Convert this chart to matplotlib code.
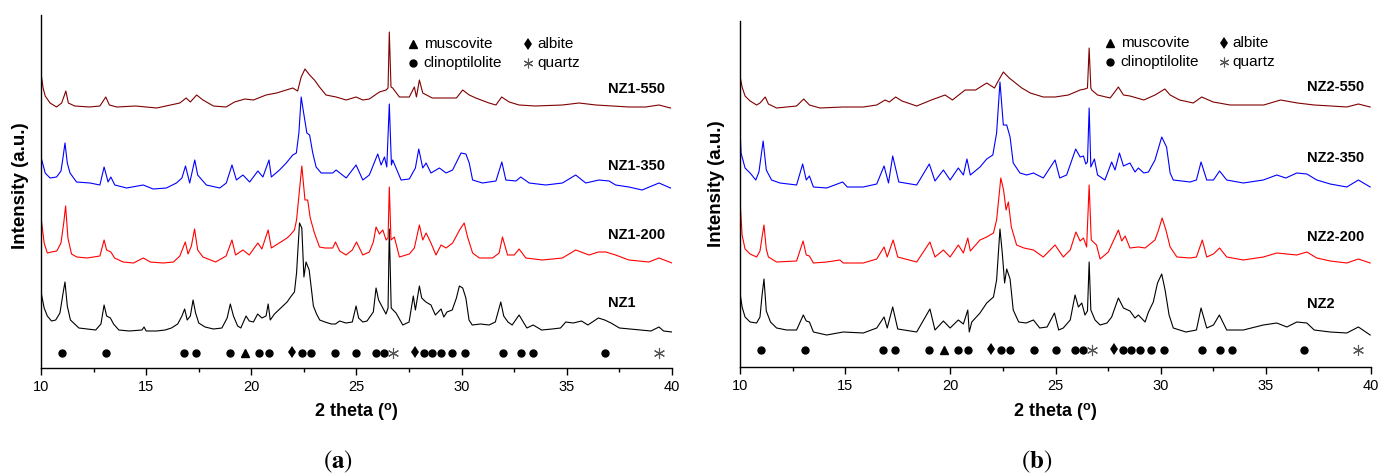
import matplotlib.pyplot as plt

plt.rcParams['font.family'] = ['Liberation Sans', 'DejaVu Sans']
plt.rcParams['mathtext.fontset'] = 'stix'

# XRD patterns as (2theta, intensity) pairs; each trace is stacked by its offset
NZ1 = [(10.0, 76), (10.15, 60), (10.3, 52), (10.5, 47), (10.7, 48), (10.9, 55), (11.05, 75),
       (11.14, 86), (11.25, 62), (11.4, 48), (11.6, 44), (11.8, 40), (12.2, 39), (12.6, 38),
       (12.85, 44), (13.0, 63), (13.12, 52), (13.3, 50), (13.45, 44), (13.7, 38), (14.2, 37),
       (14.8, 38), (14.9, 41), (15.0, 37), (15.5, 37), (15.9, 38), (16.2, 40), (16.5, 44),
       (16.7, 52), (16.83, 59), (16.95, 48), (17.1, 52), (17.23, 68), (17.35, 55), (17.5, 45),
       (17.8, 41), (18.2, 39), (18.6, 40), (18.85, 50), (19.0, 64), (19.15, 52), (19.35, 42),
       (19.5, 40), (19.75, 52), (19.9, 47), (20.1, 46), (20.3, 54), (20.5, 50), (20.7, 52),
       (20.8, 64), (20.9, 48), (21.1, 54), (21.3, 58), (21.5, 62), (21.7, 66), (21.9, 72),
       (22.05, 76), (22.15, 95), (22.29, 145), (22.4, 140), (22.5, 91), (22.6, 106), (22.75, 98),
       (22.85, 80), (22.95, 62), (23.1, 54), (23.25, 48), (23.5, 46), (23.8, 44), (24.0, 44),
       (24.2, 47), (24.5, 45), (24.8, 46), (24.98, 62), (25.1, 50), (25.3, 46), (25.5, 47),
       (25.8, 56), (25.93, 80), (26.05, 68), (26.2, 62), (26.4, 54), (26.5, 60), (26.56, 139),
       (26.65, 60), (26.88, 55), (27.2, 43), (27.5, 46), (27.7, 72), (27.8, 58), (27.99, 82),
       (28.1, 70), (28.3, 66), (28.54, 63), (28.75, 53), (29.02, 59), (29.15, 51), (29.3, 56),
       (29.55, 58), (29.75, 70), (29.89, 82), (30.05, 80), (30.2, 70), (30.35, 48), (30.5, 43),
       (30.9, 44), (31.3, 43), (31.6, 46), (31.86, 66), (32.0, 52), (32.2, 46), (32.4, 43),
       (32.73, 53), (32.9, 47), (33.1, 40), (33.4, 43), (33.8, 38), (34.3, 39), (34.7, 40),
       (34.95, 46), (35.3, 45), (35.7, 47), (36.0, 43), (36.5, 50), (36.8, 48), (37.1, 45),
       (37.5, 40), (38.0, 39), (38.5, 38), (39.0, 37), (39.38, 41), (39.6, 37), (40.0, 36)]

NZ1_200 = [(10.0, 81), (10.15, 55), (10.3, 45), (10.5, 46), (10.75, 47), (10.95, 55), (11.08, 75),
           (11.17, 92), (11.28, 60), (11.45, 44), (11.7, 41), (12.2, 40), (12.8, 42), (13.0, 58),
           (13.12, 48), (13.32, 46), (13.5, 40), (13.9, 36), (14.4, 35), (14.86, 40), (15.2, 36),
           (15.8, 35), (16.3, 36), (16.6, 42), (16.86, 56), (16.99, 44), (17.15, 52), (17.3, 69),
           (17.45, 48), (17.7, 41), (18.3, 36), (18.8, 42), (19.08, 58), (19.25, 43), (19.6, 48),
           (19.9, 43), (20.31, 55), (20.5, 49), (20.8, 68), (20.95, 50), (21.1, 52), (21.4, 56),
           (21.7, 60), (21.85, 63), (22.05, 68), (22.15, 78), (22.4, 132), (22.55, 98), (22.68, 98),
           (22.8, 80), (23.0, 65), (23.24, 51), (23.5, 50), (23.87, 50), (24.0, 56), (24.2, 47),
           (24.5, 43), (24.8, 48), (25.0, 56), (25.3, 43), (25.61, 46), (25.8, 56), (25.93, 71),
           (26.09, 64), (26.25, 68), (26.41, 58), (26.5, 60), (26.56, 111), (26.64, 58), (26.8, 61),
           (27.04, 41), (27.51, 44), (27.75, 50), (27.99, 73), (28.15, 58), (28.31, 65), (28.54, 55),
           (28.78, 43), (29.02, 53), (29.26, 50), (29.57, 55), (29.9, 68), (30.12, 75), (30.28, 61),
           (30.52, 45), (30.84, 40), (31.47, 40), (31.78, 45), (31.94, 61), (32.18, 43), (32.5, 43),
           (32.73, 49), (33.05, 40), (33.84, 38), (34.79, 40), (35.42, 48), (36.06, 43), (36.5, 46),
           (36.85, 46), (37.32, 43), (37.95, 38), (38.9, 36), (39.38, 40), (40.0, 35)]

NZ1_350 = [(10.0, 66), (10.2, 50), (10.43, 45), (10.74, 46), (10.95, 52), (11.05, 66), (11.14, 80),
           (11.25, 60), (11.38, 50), (11.69, 41), (12.33, 40), (12.8, 38), (13.0, 56), (13.19, 41),
           (13.32, 46), (13.51, 38), (14.07, 35), (14.86, 38), (15.33, 34), (15.96, 35), (16.44, 40),
           (16.7, 45), (16.87, 57), (17.07, 40), (17.31, 63), (17.45, 48), (17.86, 38), (18.5, 35),
           (18.81, 40), (19.08, 58), (19.29, 43), (19.6, 48), (19.92, 41), (20.31, 52), (20.55, 46),
           (20.84, 63), (20.95, 46), (21.34, 53), (21.66, 60), (21.97, 68), (22.14, 70), (22.26, 90),
           (22.37, 126), (22.48, 111), (22.64, 90), (22.77, 88), (22.92, 70), (23.08, 56), (23.32, 50),
           (23.87, 50), (24.03, 53), (24.51, 45), (24.98, 58), (25.3, 43), (25.61, 48), (26.01, 69),
           (26.17, 58), (26.33, 66), (26.44, 56), (26.56, 119), (26.66, 58), (26.72, 63), (26.88, 55),
           (27.12, 43), (27.51, 44), (27.8, 55), (27.96, 74), (28.15, 55), (28.31, 60), (28.54, 50),
           (28.94, 55), (29.26, 50), (29.57, 53), (29.97, 70), (30.2, 69), (30.36, 60), (30.52, 43),
           (30.99, 40), (31.63, 42), (31.91, 61), (32.1, 43), (32.58, 42), (32.81, 46), (33.21, 40),
           (34.0, 38), (34.79, 40), (35.42, 48), (35.9, 40), (36.53, 43), (37.01, 42), (37.32, 38),
           (37.95, 36), (38.58, 33), (39.38, 40), (39.93, 35)]

NZ1_550 = [(10.0, 70), (10.1, 55), (10.2, 47), (10.43, 40), (10.74, 36), (10.98, 40), (11.1, 47),
           (11.18, 52), (11.3, 40), (11.6, 37), (12.3, 36), (12.8, 37), (13.08, 46), (13.25, 38),
           (13.6, 36), (14.5, 37), (15.5, 35), (16.6, 40), (16.9, 45), (17.1, 41), (17.4, 48),
           (17.7, 43), (18.2, 37), (18.8, 36), (19.2, 41), (19.7, 44), (20.1, 43), (20.7, 48),
           (21.2, 50), (21.66, 53), (21.97, 55), (22.2, 52), (22.37, 66), (22.55, 74), (22.77, 68),
           (23.0, 63), (23.24, 56), (23.55, 48), (24.03, 46), (24.51, 43), (24.98, 46), (25.3, 43),
           (25.61, 44), (26.09, 51), (26.41, 53), (26.5, 55), (26.56, 111), (26.64, 56), (26.72, 55),
           (27.04, 46), (27.51, 46), (27.75, 56), (27.85, 46), (27.99, 63), (28.15, 50), (28.6, 45),
           (29.26, 45), (29.75, 45), (30.05, 53), (30.36, 48), (30.67, 45), (31.3, 40), (31.63, 38),
           (31.9, 46), (32.26, 41), (32.73, 38), (33.5, 37), (34.79, 38), (35.58, 40), (36.38, 38),
           (37.17, 37), (37.95, 36), (38.74, 36), (39.38, 38), (39.93, 35)]

NZ2 = [(10.0, 74), (10.1, 60), (10.24, 50), (10.48, 45), (10.79, 44), (10.95, 50), (11.05, 72),
       (11.14, 88), (11.25, 56), (11.45, 45), (11.74, 39), (12.22, 37), (12.69, 37), (13.01, 52),
       (13.15, 46), (13.3, 45), (13.49, 35), (14.12, 32), (14.91, 35), (15.86, 34), (16.5, 39),
       (16.85, 50), (17.0, 39), (17.26, 60), (17.5, 38), (18.4, 35), (19.03, 58), (19.27, 37),
       (19.67, 46), (19.99, 39), (20.38, 47), (20.62, 43), (20.83, 57), (20.9, 35), (21.02, 45),
       (21.41, 54), (21.73, 64), (22.05, 70), (22.2, 87), (22.36, 138), (22.47, 114), (22.58, 84),
       (22.68, 98), (22.84, 88), (22.99, 57), (23.25, 45), (23.6, 44), (23.95, 47), (24.25, 39),
       (24.6, 40), (24.95, 54), (25.15, 37), (25.37, 39), (25.7, 47), (25.93, 72), (26.09, 60),
       (26.25, 64), (26.4, 52), (26.52, 56), (26.6, 105), (26.68, 57), (26.88, 47), (27.12, 42),
       (27.45, 44), (27.67, 50), (27.99, 69), (28.23, 59), (28.54, 56), (28.78, 49), (28.94, 52),
       (29.26, 45), (29.42, 55), (29.65, 65), (29.85, 84), (30.05, 93), (30.21, 77), (30.4, 52),
       (30.6, 39), (31.2, 35), (31.7, 37), (31.92, 59), (32.19, 39), (32.51, 42), (32.79, 52),
       (33.14, 37), (33.93, 37), (34.88, 42), (35.52, 44), (36.0, 40), (36.47, 45), (36.95, 44),
       (37.3, 37), (38.06, 35), (38.85, 34), (39.4, 40), (39.96, 32)]

NZ2_200 = [(10.0, 97), (10.1, 62), (10.24, 48), (10.48, 43), (10.79, 40), (10.95, 46), (11.05, 60),
           (11.14, 72), (11.25, 48), (11.35, 40), (11.74, 35), (12.69, 36), (13.0, 56), (13.15, 42),
           (13.3, 41), (13.49, 34), (14.12, 35), (14.75, 37), (14.91, 34), (15.86, 34), (16.5, 38),
           (16.85, 50), (17.0, 40), (17.28, 57), (17.5, 40), (18.4, 35), (19.03, 55), (19.27, 40),
           (19.67, 47), (19.99, 40), (20.38, 52), (20.62, 44), (20.83, 59), (20.95, 46), (21.41, 57),
           (21.73, 60), (22.05, 64), (22.2, 77), (22.4, 119), (22.53, 107), (22.65, 87), (22.76, 95),
           (22.9, 70), (23.15, 52), (23.5, 49), (23.95, 47), (24.42, 40), (24.98, 52), (25.37, 40),
           (25.7, 47), (25.97, 65), (26.17, 56), (26.33, 59), (26.48, 50), (26.6, 112), (26.7, 57),
           (26.95, 52), (27.12, 38), (27.51, 45), (27.99, 67), (28.15, 56), (28.31, 61), (28.54, 49),
           (28.94, 50), (29.26, 49), (29.73, 57), (29.9, 67), (30.07, 79), (30.25, 67), (30.45, 50),
           (30.77, 40), (31.4, 39), (31.7, 40), (31.98, 57), (32.19, 40), (32.51, 43), (32.8, 49),
           (33.14, 40), (33.93, 37), (34.88, 40), (35.52, 44), (36.47, 42), (36.95, 45), (37.42, 39),
           (38.06, 36), (38.85, 34), (39.4, 38), (39.96, 34)]

NZ2_350 = [(10.0, 94), (10.05, 69), (10.24, 54), (10.48, 49), (10.75, 42), (10.9, 50), (11.1, 81),
           (11.25, 52), (11.5, 42), (11.9, 39), (12.69, 37), (12.98, 58), (13.15, 42), (13.3, 46),
           (13.49, 35), (14.12, 34), (14.88, 40), (15.1, 35), (15.86, 35), (16.5, 38), (16.85, 56),
           (17.06, 39), (17.26, 66), (17.55, 40), (18.4, 37), (19.0, 58), (19.27, 41), (19.67, 52),
           (19.99, 42), (20.38, 54), (20.62, 47), (20.79, 63), (20.95, 47), (21.41, 55), (21.73, 63),
           (22.02, 67), (22.2, 89), (22.36, 140), (22.52, 97), (22.68, 97), (22.84, 85), (22.99, 59),
           (23.31, 49), (23.63, 47), (23.95, 49), (24.42, 44), (24.98, 62), (25.2, 44), (25.53, 47),
           (25.96, 73), (26.17, 65), (26.33, 66), (26.44, 58), (26.52, 60), (26.6, 114), (26.68, 55),
           (26.85, 63), (27.0, 47), (27.35, 42), (27.67, 60), (27.83, 52), (28.04, 69), (28.23, 56),
           (28.54, 59), (28.78, 50), (28.94, 54), (29.2, 49), (29.42, 50), (29.73, 62), (30.05, 85),
           (30.28, 75), (30.45, 49), (30.6, 42), (31.4, 40), (31.7, 42), (31.92, 60), (32.19, 42),
           (32.51, 42), (32.8, 51), (33.14, 42), (33.93, 39), (34.88, 42), (35.52, 47), (35.95, 44),
           (36.47, 49), (36.95, 48), (37.42, 42), (38.06, 38), (38.85, 35), (39.4, 42), (39.96, 35)]

NZ2_550 = [(10.0, 66), (10.1, 55), (10.24, 46), (10.48, 41), (10.79, 37), (10.95, 39), (11.2, 45),
           (11.35, 38), (11.74, 34), (12.69, 36), (13.03, 43), (13.3, 37), (13.8, 34), (14.91, 35),
           (15.86, 35), (16.5, 37), (16.9, 42), (17.1, 40), (17.4, 45), (17.7, 41), (18.4, 36),
           (19.1, 42), (19.75, 47), (20.1, 42), (20.7, 52), (21.2, 52), (21.73, 59), (22.1, 54),
           (22.25, 60), (22.52, 70), (22.8, 64), (23.1, 59), (23.4, 54), (23.8, 49), (24.42, 45),
           (24.98, 45), (25.61, 47), (26.17, 52), (26.4, 53), (26.52, 54), (26.6, 94), (26.68, 54),
           (26.72, 52), (27.0, 47), (27.6, 44), (27.99, 55), (28.23, 47), (28.54, 46), (29.2, 42),
           (29.73, 47), (30.2, 53), (30.45, 47), (30.9, 42), (31.55, 39), (31.95, 45), (32.5, 40),
           (33.3, 37), (34.9, 37), (35.7, 42), (36.5, 39), (37.3, 37), (38.1, 36), (38.85, 35),
           (39.4, 38), (39.96, 35)]

OFFSETS = [0, 70, 145, 225]
COLORS = ['black', 'red', 'blue', '#7f0000']

# reflection positions (2theta) for the phase markers
CLINOPTILOLITE = [11.0, 13.1, 16.8, 17.35, 19.0, 20.38, 20.82, 22.42, 22.85, 23.97, 25.0,
                  25.95, 26.32, 28.2, 28.6, 29.02, 29.56, 30.15, 31.97, 32.8, 33.37, 36.83]
MUSCOVITE = [19.68]
ALBITE = [21.95, 27.8]
QUARTZ = [26.75, 39.4]

ASTERISK = (6, 2, 0)

W, H = 1380, 475


def panel(rect_px, ymax, traces, names, label_h, marker_h, legend_x, legend_h, ylabel_pos):
    left, top, right, bottom = rect_px
    ax = fig.add_axes([left / W, 1 - bottom / H, (right - left) / W, (bottom - top) / H])
    for data, off, c in zip(traces, OFFSETS, COLORS):
        x = [p[0] for p in data]
        y = [p[1] + off for p in data]
        ax.plot(x, y, color=c, lw=0.8)

    # phase markers under the patterns
    ax.plot(CLINOPTILOLITE, [marker_h] * len(CLINOPTILOLITE), 'o', color='black', ms=5, ls='none')
    ax.plot(MUSCOVITE, [marker_h] * len(MUSCOVITE), '^', color='black', ms=6, ls='none')
    ax.plot(ALBITE, [marker_h + 1] * len(ALBITE), 'd', color='black', ms=6.5, mew=0, ls='none')
    ax.plot(QUARTZ, [marker_h] * len(QUARTZ), marker=ASTERISK, color='#555555', ms=8,
            mew=0.8, ls='none')

    # phase legend
    x1, t1, x2, t2 = legend_x
    h1, h2 = legend_h
    ax.plot([x1], [h1], '^', color='black', ms=6)
    ax.plot([x2], [h1], 'd', color='black', ms=6.5, mew=0)
    ax.plot([x1], [h2], 'o', color='black', ms=5)
    ax.plot([x2], [h2], marker=ASTERISK, color='#555555', ms=7, mew=0.8)
    for tx, ty, s in [(t1, h1, 'muscovite'), (t2, h1, 'albite'),
                      (t1, h2, 'clinoptilolite'), (t2, h2, 'quartz')]:
        ax.text(tx, ty, s, fontsize=11, ha='left', va='center')

    for name, hy in zip(names, label_h):
        ax.text(36.95, hy, name, fontsize=10.5, fontweight='bold', ha='left', va='center')

    ax.set_xlim(10, 40)
    ax.set_ylim(0, ymax)
    ax.set_xticks([10, 15, 20, 25, 30, 35, 40])
    ax.set_xticks([12.5, 17.5, 22.5, 27.5, 32.5, 37.5], minor=True)
    ax.set_yticks([])
    ax.tick_params(axis='x', which='major', direction='out', length=4.8, width=1,
                   labelsize=10.5, pad=4)
    ax.tick_params(axis='x', which='minor', direction='out', length=2.9, width=1)
    for s in ['top', 'right']:
        ax.spines[s].set_visible(False)
    for s in ['left', 'bottom']:
        ax.spines[s].set_linewidth(1.0)

    ax.set_xlabel('2 theta ($^{\\mathregular{o}}$)', fontsize=13, fontweight='bold')
    ax.xaxis.label.set_va('center')
    ax.xaxis.set_label_coords(0.5, (bottom - 412.5) / (bottom - top))
    ax.set_ylabel('Intensity (a.u.)', fontsize=13.5, fontweight='bold')
    ax.yaxis.label.set_va('center')
    ax.yaxis.set_label_coords((ylabel_pos[0] - left) / (right - left),
                              (bottom - ylabel_pos[1]) / (bottom - top))
    return ax


fig = plt.figure(figsize=(W / 100, H / 100), dpi=100)

panel((41, 15, 672, 368), 353, [NZ1, NZ1_200, NZ1_350, NZ1_550],
      ['NZ1', 'NZ1-200', 'NZ1-350', 'NZ1-550'], [65, 133, 202, 279], 15.3,
      (27.70, 28.2, 33.17, 33.6), (324, 305), (20.7, 186))
panel((740, 21, 1371, 367), 346, [NZ2, NZ2_200, NZ2_350, NZ2_550],
      ['NZ2', 'NZ2-200', 'NZ2-350', 'NZ2-550'], [63, 130, 209, 280], 17,
      (27.60, 28.1, 32.99, 33.42), (323.7, 305.3), (716, 184))

fig.text(338 / W, 1 - 462 / H, r'$(\mathbf{a})$', fontsize=18, ha='center', va='center')
fig.text(1037 / W, 1 - 462 / H, r'$(\mathbf{b})$', fontsize=18, ha='center', va='center')

fig.savefig('out.png', dpi=100)
